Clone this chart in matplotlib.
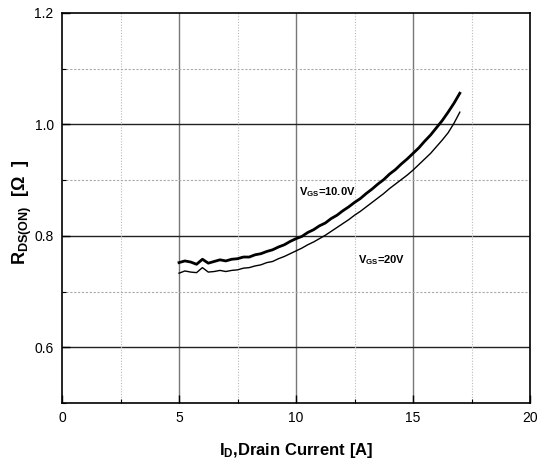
import matplotlib
matplotlib.use("Agg")
import matplotlib.pyplot as plt
from matplotlib.ticker import MultipleLocator
from matplotlib import font_manager

names = {f.name for f in font_manager.fontManager.ttflist}
narrow = 'Liberation Sans Narrow' if 'Liberation Sans Narrow' in names else 'Liberation Sans'

plt.rcParams['font.family'] = ['Liberation Sans', 'DejaVu Sans']
plt.rcParams['mathtext.fontset'] = 'custom'
plt.rcParams['mathtext.rm'] = narrow + ':bold'
plt.rcParams['mathtext.it'] = narrow + ':bold'
plt.rcParams['mathtext.bf'] = narrow + ':bold'

# ---- data ----
current = [5.00, 5.25, 5.50, 5.75, 6.00, 6.25, 6.50, 6.75, 7.00, 7.25, 7.50, 7.75,
           8.00, 8.25, 8.50, 8.75, 9.00, 9.25, 9.50, 9.75, 10.00, 10.25, 10.50, 10.75,
           11.00, 11.25, 11.50, 11.75, 12.00, 12.25, 12.50, 12.75, 13.00, 13.25, 13.50,
           13.75, 14.00, 14.25, 14.50, 14.75, 15.00, 15.25, 15.50, 15.75, 16.00, 16.25,
           16.50, 16.75, 17.00]
rds_vgs10 = [0.752, 0.755, 0.753, 0.749, 0.758, 0.751, 0.754, 0.757, 0.755, 0.758, 0.759, 0.762,
             0.762, 0.766, 0.768, 0.772, 0.775, 0.780, 0.784, 0.790, 0.795, 0.799, 0.806, 0.811,
             0.818, 0.823, 0.831, 0.837, 0.845, 0.852, 0.860, 0.867, 0.876, 0.884, 0.893,
             0.901, 0.911, 0.919, 0.929, 0.938, 0.948, 0.958, 0.970, 0.981, 0.994, 1.007,
             1.022, 1.038, 1.056]
rds_vgs20 = [0.733, 0.737, 0.735, 0.734, 0.743, 0.735, 0.736, 0.738, 0.736, 0.738, 0.739, 0.742,
             0.743, 0.746, 0.748, 0.752, 0.754, 0.759, 0.763, 0.768, 0.773, 0.778, 0.784, 0.789,
             0.795, 0.801, 0.808, 0.815, 0.822, 0.829, 0.837, 0.844, 0.852, 0.860, 0.868,
             0.876, 0.885, 0.893, 0.901, 0.909, 0.918, 0.928, 0.938, 0.948, 0.960, 0.972,
             0.985, 1.002, 1.022]
x_ticks = [0, 5, 10, 15, 20]
y_ticks = [0.6, 0.8, 1.0, 1.2]
label_10 = r'$\mathrm{V_{GS}}$=10.0V'
label_20 = r'$\mathrm{V_{GS}}$=20V'

fig = plt.figure(figsize=(5.45, 4.69), dpi=100)
ax = fig.add_axes([0.1138, 0.1407, 0.8587, 0.8316])

ax.set_xlim(0, 20)
ax.set_ylim(0.5, 1.2)
ax.set_xticks(x_ticks)
ax.set_xticklabels([str(v) for v in x_ticks])
ax.set_yticks(y_ticks)
ax.set_yticklabels([f'{v:.1f}' for v in y_ticks])
ax.xaxis.set_minor_locator(MultipleLocator(2.5))
ax.yaxis.set_minor_locator(MultipleLocator(0.1))

ax.grid(False)
for xv in [5, 10, 15]:
    ax.axvline(xv, color='#777777', lw=1.0, zorder=1)
for yv in [0.6, 0.8, 1.0]:
    ax.axhline(yv, color='#222222', lw=1.0, zorder=1)
for xv in [2.5, 7.5, 12.5, 17.5]:
    ax.axvline(xv, color='#bbbbbb', lw=0.8, ls=(0, (1, 1.5)), zorder=1)
for yv in [0.7, 0.9, 1.1]:
    ax.axhline(yv, color='#aaaaaa', lw=0.8, ls=(0, (2, 1.5)), zorder=1)

ax.plot(current, rds_vgs10, color='black', lw=2.0, zorder=3)
ax.plot(current, rds_vgs20, color='black', lw=1.0, zorder=3)

for s in ax.spines.values():
    s.set_linewidth(1.2)
    s.set_color('black')

ax.tick_params(which='major', direction='in', length=6, width=1, labelsize=10,
               top=False, right=False, pad=6)
ax.tick_params(which='minor', direction='in', length=3, width=0.8, top=False, right=False)

ax.text(10.13, 0.879, label_10, fontsize=8, fontweight='bold', family=narrow,
        ha='left', va='center', zorder=4)
ax.text(12.65, 0.757, label_20, fontsize=8, fontweight='bold', family=narrow,
        ha='left', va='center', zorder=4)

ax.set_xlabel(r'$\mathrm{I_D}$,Drain Current [A]', fontsize=12, fontweight='bold',
              family=narrow, labelpad=11)
ax.set_ylabel(r'$\mathrm{R_{DS(ON)}}$  [Ω  ]', fontsize=13, fontweight='bold',
              family=[narrow, 'DejaVu Sans'])
ax.yaxis.set_label_coords(-0.06, 0.49)

fig.savefig('out.png', dpi=100)
